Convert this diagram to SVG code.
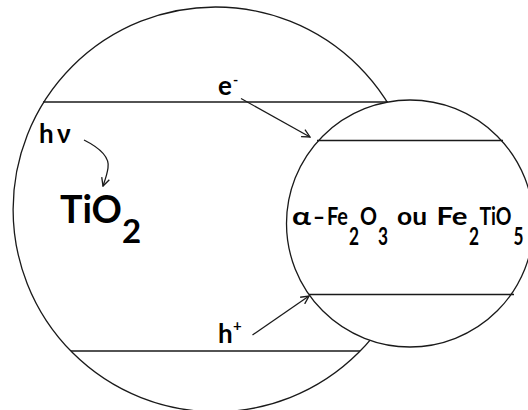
<svg xmlns="http://www.w3.org/2000/svg" width="528" height="410" viewBox="0 0 528 410">
<defs>
<style>
.ln{stroke:#1a1a1a;stroke-width:1.3;fill:none}
.lnw{stroke:#1a1a1a;stroke-width:1.3;fill:#fff}
.t{font-family:Lato,"Liberation Sans",Arial,sans-serif;font-weight:bold;fill:#000}
</style>
<marker id="ah" viewBox="0 0 10 10" refX="9" refY="5" markerWidth="10" markerHeight="10" markerUnits="userSpaceOnUse" orient="auto">
<path d="M1,1 L9,5 L1,9" fill="none" stroke="#1a1a1a" stroke-width="1.3"/>
</marker>
</defs>
<rect width="528" height="410" fill="#fff"/>
<g id="tio2">
<circle class="ln" cx="215.5" cy="209.4" r="202.4"/>
<line class="ln" x1="43" y1="102" x2="388" y2="102"/>
<line class="ln" x1="71" y1="351" x2="360" y2="351"/>
<text class="t" x="60" y="223" font-size="39" textLength="62" lengthAdjust="spacingAndGlyphs">TiO</text>
<text class="t" x="122" y="243" font-size="33">2</text>
</g>
<g id="fe">
<circle class="lnw" cx="410" cy="223.5" r="123.5"/>
<line class="ln" x1="317" y1="140.5" x2="503" y2="140.5"/>
<line class="ln" x1="309" y1="294.5" x2="514" y2="294.5"/>
<text class="t" font-size="25.5">
<tspan x="292" y="224.5" textLength="19" lengthAdjust="spacingAndGlyphs">α</tspan>
<tspan x="313" y="224.5" textLength="12" lengthAdjust="spacingAndGlyphs">–</tspan>
<tspan x="327" y="224.5" textLength="21" lengthAdjust="spacingAndGlyphs">Fe</tspan>
<tspan x="349" y="244.5" textLength="10" lengthAdjust="spacingAndGlyphs">2</tspan>
<tspan x="360" y="224.5" textLength="17" lengthAdjust="spacingAndGlyphs">O</tspan>
<tspan x="378" y="244.5" textLength="10" lengthAdjust="spacingAndGlyphs">3</tspan>
<tspan x="397" y="224.5" textLength="30" lengthAdjust="spacingAndGlyphs">ou</tspan>
<tspan x="436.5" y="224.5" textLength="31" lengthAdjust="spacingAndGlyphs">Fe</tspan>
<tspan x="469" y="244.5" textLength="10" lengthAdjust="spacingAndGlyphs">2</tspan>
<tspan x="479.5" y="224.5" textLength="32" lengthAdjust="spacingAndGlyphs">TiO</tspan>
<tspan x="513.5" y="244.5" textLength="10" lengthAdjust="spacingAndGlyphs">5</tspan>
</text>
</g>
<g id="labels">
<text class="t" font-size="26"><tspan x="39" y="143">h</tspan><tspan x="57" y="143">ν</tspan></text>
<text class="t" font-size="26"><tspan x="218" y="95">e</tspan><tspan x="233" y="85" font-size="14">-</tspan></text>
<text class="t" font-size="26"><tspan x="218" y="343">h</tspan><tspan x="233" y="331" font-size="15">+</tspan></text>
</g>
<g id="connectors">
<path class="ln" d="M84,140 C98,147 110,157 108,168 C107,175 105,180 103,186" marker-end="url(#ah)"/>
<line class="ln" x1="241" y1="98.5" x2="310" y2="137" marker-end="url(#ah)"/>
<line class="ln" x1="252.5" y1="335" x2="309" y2="296" marker-end="url(#ah)"/>
</g>
</svg>
